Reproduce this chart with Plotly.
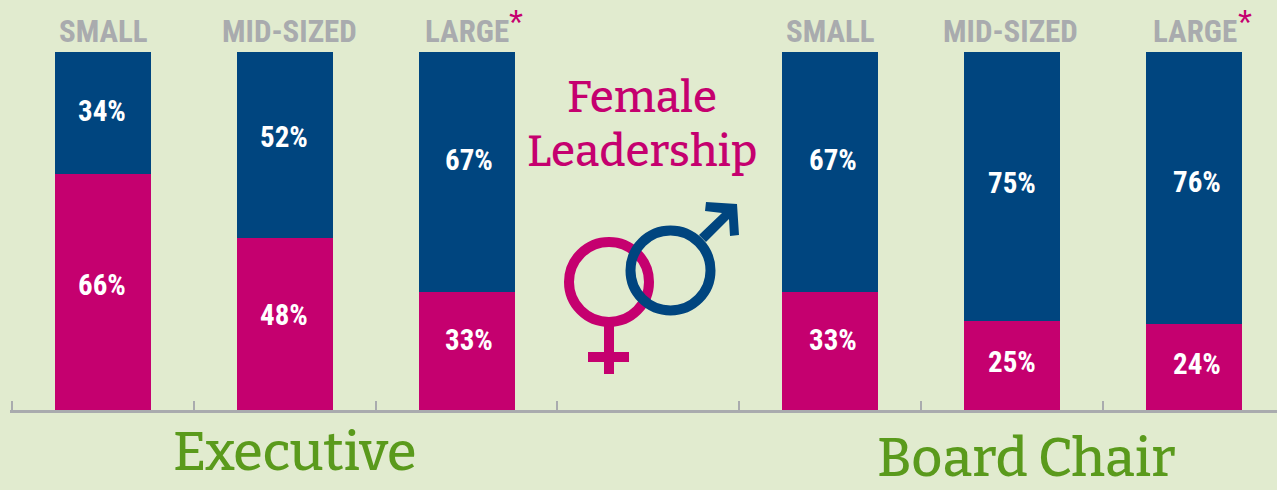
import plotly.graph_objects as go

categories = ["Exec small", "Exec mid", "Exec large", "gap", "Chair small", "Chair mid", "Chair large"]
female = [66, 48, 33, None, 33, 25, 24]
male = [34, 52, 67, None, 67, 75, 76]
size_labels = ["SMALL", "MID-SIZED", "LARGE", None, "SMALL", "MID-SIZED", "LARGE"]

W, H = 1277, 490
L, T, B = 10, 52, 410
BAND = 181.8
PINK, BLUE, GREEN, GRAY, BG = "#c5006f", "#00457f", "#5a9a1c", "#a9abae", "#e1ebcf"
NARROW = "Roboto Condensed, Liberation Sans"
SLAB = "Bitter, DejaVu Serif"

def px(x):
    return (x - L) / (W - L)

def py(y):
    return (B - y) / (B - T)

def path(points):
    return "M" + " L".join(f"{px(x):.5f},{py(y):.5f}" for x, y in points) + " Z"

fig = go.Figure()
fig.add_bar(x=categories, y=female, marker=dict(color=PINK, line_width=0), name="Female")
fig.add_bar(x=categories, y=male, marker=dict(color=BLUE, line_width=0), name="Male")

annotations = []
female_shift = [7, 9, 11, None, 11, 3, 3]
male_shift = [2, 8, 12, None, 12, 3, 6]
pct_xshift = [-1, -1, 2, None, 3, 0, 3]
size_shift = [1, 5, 0, None, 0, -1, 1]
for i, cat in enumerate(categories):
    if female[i] is None:
        continue
    for text_val, y_val, shift in (
        (female[i], female[i] / 2, female_shift[i]),
        (male[i], female[i] + male[i] / 2, male_shift[i]),
    ):
        annotations.append(dict(x=cat, y=y_val, yref="y", xref="x", text=f"<b>{text_val}%</b>",
                                showarrow=False, yshift=shift, xshift=pct_xshift[i],
                                font=dict(family=NARROW, size=29, color="white")))
    annotations.append(dict(x=cat, y=py(32), yref="paper", xref="x", xshift=size_shift[i], yanchor="middle",
                            text=f"<b>{size_labels[i]}</b>", showarrow=False,
                            font=dict(family=NARROW, size=31, color=GRAY)))

def free_text(x, y, text, size, color, family=SLAB, weight=500):
    return dict(x=px(x), y=py(y), xref="paper", yref="paper", text=text, showarrow=False,
                xanchor="center", yanchor="middle",
                font=dict(family=family, size=size, color=color, weight=weight))

annotations += [
    free_text(642, 97, "Female", 44, PINK),
    free_text(642, 151, "Leadership", 44, PINK),
    free_text(295, 452, "Executive", 54, GREEN),
    free_text(1026, 458, "Board Chair", 54, GREEN),
    free_text(516, 24, "*", 36, PINK, "Liberation Sans", 400),
    free_text(1245, 24, "*", 36, PINK, "Liberation Sans", 400),
]

def ring(cx, cy, r, color):
    return dict(type="circle", xref="paper", yref="paper", x0=px(cx - r), x1=px(cx + r),
                y0=py(cy + r), y1=py(cy - r), line=dict(color=color, width=10), fillcolor="rgba(0,0,0,0)")

def poly(points, color):
    return dict(type="path", xref="paper", yref="paper", path=path(points), fillcolor=color, line_width=0)

shapes = [
    ring(609, 282, 40, PINK),
    poly([(604, 326), (614, 326), (614, 352), (629, 352), (629, 362), (614, 362), (614, 374),
          (604, 374), (604, 362), (588, 362), (588, 352), (604, 352)], PINK),
    ring(670.5, 270.5, 40, BLUE),
    poly([(699, 235), (722, 213), (705, 211), (706, 202), (737, 204), (739, 235), (730, 236), (729, 219), (706, 242)], BLUE),
]

x_start = -0.5 - (12 - L) / BAND

fig.update_layout(
    width=W, height=H, barmode="stack", bargap=1 - 96 / BAND, showlegend=False,
    paper_bgcolor=BG, plot_bgcolor=BG,
    margin=dict(l=L, r=0, t=T, b=H - B, pad=0),
    annotations=annotations, shapes=shapes,
    xaxis=dict(type="category", categoryorder="array", categoryarray=categories,
               range=[x_start, x_start + (W - L) / BAND], tickson="boundaries", ticks="inside", ticklen=9,
               tickwidth=2, tickcolor=GRAY, showticklabels=False, showgrid=False, zeroline=False,
               showline=True, linecolor=GRAY, linewidth=3, layer="below traces"),
    yaxis=dict(range=[0, 100], visible=False, showgrid=False, zeroline=False),
)

fig.write_html("out.html", config=dict(displayModeBar=False),
               post_script="document.body.style.margin='0';document.body.style.background='#e1ebcf';")
